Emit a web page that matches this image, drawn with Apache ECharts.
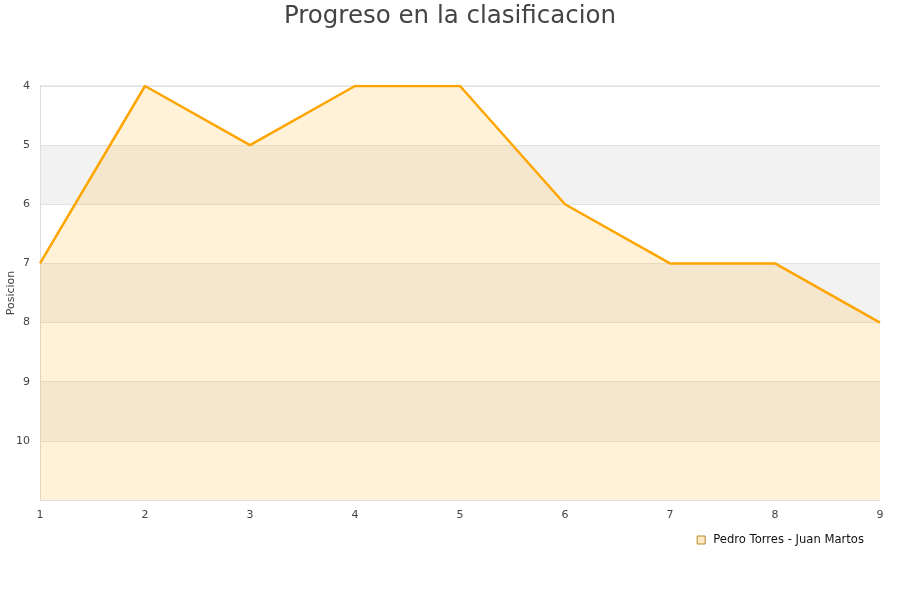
<!DOCTYPE html>
<html><head><meta charset="utf-8">
<script src="https://cdn.jsdelivr.net/npm/echarts@6/dist/echarts.min.js"></script>
<style>html,body{margin:0;padding:0;background:#fff}#c{width:900px;height:600px}</style>
</head><body><div id="c"></div>
<script>
const categories = ['1','2','3','4','5','6','7','8','9'];
const positions = [7,4,5,4,4,6,7,7,8];
const seriesName = 'Pedro Torres - Juan Martos';
const chart = echarts.init(document.getElementById('c'));
chart.setOption({
  animation:false,
  title:{text:'Progreso en la clasificacion',left:'center',top:-1,textStyle:{fontSize:24.5,fontWeight:'normal',color:'#444',fontFamily:'DejaVu Sans'}},
  grid:{left:40,right:20,top:86,bottom:100,containLabel:false,outerBoundsMode:'none'},
  legend:{right:31,top:529,itemWidth:8,itemHeight:8,itemGap:10,icon:'rect',textStyle:{fontSize:11.6,color:'#111',fontFamily:'DejaVu Sans',padding:[0,0,0,3]},data:[{name:seriesName,itemStyle:{color:'#fde9c4',borderColor:'#b8862a',borderWidth:1}}]},
  xAxis:{type:'category',data:categories,boundaryGap:false,
    axisLine:{show:true,lineStyle:{color:'#ddd'}},axisTick:{show:false},
    axisLabel:{fontSize:11,color:'#444',margin:10,fontFamily:'DejaVu Sans'},
    splitLine:{show:false}},
  yAxis:{type:'value',inverse:true,min:4,max:11,interval:1,
    name:'Posicion',nameLocation:'middle',nameGap:23,nameMoveOverlap:false,nameTextStyle:{fontSize:11,color:'#444',fontFamily:'DejaVu Sans'},
    axisLine:{show:true,lineStyle:{color:'#ddd'}},axisTick:{show:false},
    axisLabel:{fontSize:11,color:'#444',margin:10,fontFamily:'DejaVu Sans',formatter:v=>v===11?'':String(v)},
    splitLine:{show:true,lineStyle:{color:'#e2e2e2'}},
    splitArea:{show:true,areaStyle:{color:['#ffffff','#f2f2f2']}}},
  graphic:[{type:'rect',shape:{x:879,y:86,width:1,height:414},style:{fill:'#ddd'},silent:true},
           {type:'rect',shape:{x:40,y:85.5,width:840,height:1},style:{fill:'#d8d8d8'},silent:true}],
  series:[{name:seriesName,type:'line',data:positions,symbol:'none',
    lineStyle:{color:'#ffa500',width:2.5},itemStyle:{color:'#ffa500'},
    areaStyle:{color:'rgba(255,165,0,0.21)',origin:'end'}}]
});
</script></body></html>
